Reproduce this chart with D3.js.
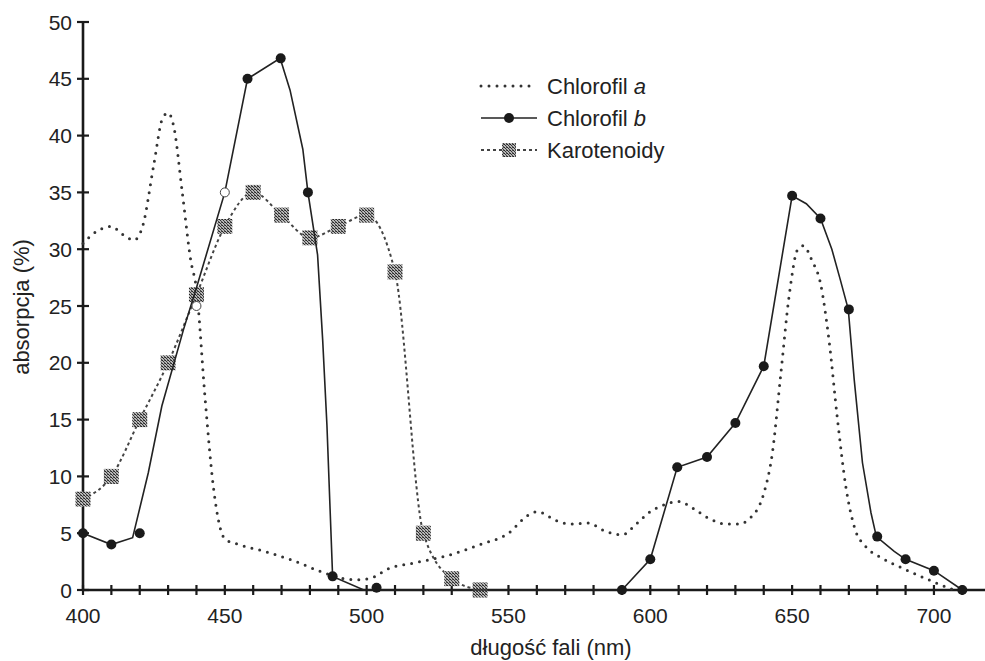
<!DOCTYPE html>
<html lang="pl">
<head>
  <meta charset="UTF-8">
  <title>Absorpcja barwników</title>
  <style>
    body { margin: 0; background: #fff; }
    svg text { font-family: "Liberation Sans", Arial, sans-serif; fill: #222; }
  </style>
</head>
<body>
<div id="chart"></div>
<script src="https://d3js.org/d3.v7.min.js"></script>
<script>
  // dane: [długość fali (nm), absorpcja (%)]
  var chlorofilA = [
    [400, 30.5], [405, 31.6], [410, 32], [414, 31.3], [418, 30.8], [421, 32], [425, 37.5],
    [428, 41.5], [430, 42], [432, 40.8], [435, 35], [438, 29], [440, 26.5], [443, 17],
    [446, 9], [450, 4.5], [455, 4], [464, 3.4], [474, 2.6], [484, 1.6], [491, 1.05],
    [497, 0.9], [501, 1.0], [508, 1.9], [517, 2.4], [528, 3.0], [540, 4.0], [550, 5.0],
    [557, 6.6], [560, 6.9], [567, 6.1], [572, 5.8], [578, 5.9], [584, 5.2], [590, 4.85],
    [595, 5.8], [600, 6.9], [605, 7.5], [610, 7.8], [615, 7.2], [620, 6.4], [627, 5.8],
    [631, 5.8], [635, 6.3], [640, 8.5], [643, 12], [646, 19], [649, 26], [652, 30],
    [654, 30.3], [657, 29], [660, 27], [663, 22], [666, 15], [669, 9], [672, 5.5],
    [676, 3.8], [681, 2.9], [690, 1.8], [700, 0.7], [707, 0]
  ]

  var chlorofilBLine = [
    [400, 5], [410, 4], [417.5, 4.6], [423, 10.3], [427.8, 16.2], [435.4, 22.9], [440, 26.6],
    [450, 35], [458, 45], [469.5, 46.8], [473, 44], [477.5, 38.8], [479.3, 35], [482.7, 29.5],
    [484.5, 22], [486, 14.5], [488, 1.2], [499, 0], [590, 0], [600, 2.7], [609.5, 10.8],
    [620, 11.7], [630, 14.7], [640, 19.7], [650, 34.7], [655, 34], [660, 32.7], [664, 30],
    [667, 27.3], [669.8, 24.7], [671.9, 18.5], [674.8, 11.2], [677.8, 6.8], [679.7, 4.7],
    [686, 3.4], [690, 2.7], [700, 1.7], [710, 0]
  ]
  var chlorofilBPunkty = [
    [400, 5], [410, 4], [420, 5], [458, 45], [469.7, 46.8], [479.3, 35], [488, 1.2],
    [503.5, 0.2], [590, 0], [600, 2.7], [609.5, 10.8], [620, 11.7], [630, 14.7], [640, 19.7],
    [650, 34.7], [660, 32.7], [670, 24.7], [680, 4.7], [690, 2.7], [700, 1.7], [710, 0]
  ]
  var chlorofilBPuste = [[440, 25], [450, 35]]

  var karotenoidy = [
    [400, 8], [410, 10], [420, 15], [430, 20], [440, 26], [450, 32], [460, 35], [470, 33],
    [480, 31], [490, 32], [500, 33], [510, 28], [520, 5], [530, 1], [540, 0]
  ]

  var xTicks = d3.range(400, 711, 10)
  var xLabels = [400, 450, 500, 550, 600, 650, 700]
  var yTicks = d3.range(0, 51, 5)

  var width = 985, height = 661
  var svg = d3.select('#chart').append('svg')
    .attr('width', width)
    .attr('height', height)

  // wzór wypełnienia kwadratów (rastrowany szary)
  var pat = svg.append('defs').append('pattern')
    .attr('id', 'raster')
    .attr('patternUnits', 'userSpaceOnUse')
    .attr('width', 3).attr('height', 3)
  pat.append('rect').attr('width', 3).attr('height', 3).attr('fill', '#b5b5b5')
  pat.append('rect').attr('x', 0).attr('y', 0).attr('width', 1).attr('height', 1).attr('fill', '#222')
  pat.append('rect').attr('x', 1).attr('y', 1).attr('width', 1).attr('height', 1).attr('fill', '#333')
  pat.append('rect').attr('x', 2).attr('y', 2).attr('width', 1).attr('height', 1).attr('fill', '#444')
  pat.append('rect').attr('x', 2).attr('y', 0).attr('width', 1).attr('height', 1).attr('fill', '#555')

  var x = d3.scaleLinear().domain([400, 718]).range([83, 985])
  var y = d3.scaleLinear().domain([0, 50]).range([590, 22])

  var line = d3.line()
    .x(function (d) { return x(d[0]) })
    .y(function (d) { return y(d[1]) })

  // osie rysowane ręcznie (linie z krzyżującymi się kreskami)
  var axes = svg.append('g').attr('class', 'axes')
  axes.append('line')
    .attr('x1', x.range()[0]).attr('x2', x.range()[1])
    .attr('y1', y(0)).attr('y2', y(0))
    .attr('stroke', '#1a1a1a').attr('stroke-width', 2.6)
  axes.append('line')
    .attr('x1', x(400)).attr('x2', x(400))
    .attr('y1', y.range()[0] + 1).attr('y2', y.range()[1])
    .attr('stroke', '#1a1a1a').attr('stroke-width', 2.6)
  axes.selectAll('.xt')
    .data(xTicks)
    .enter().append('line')
    .attr('class', 'xt')
    .attr('x1', function (d) { return x(d) }).attr('x2', function (d) { return x(d) })
    .attr('y1', y(0) - 5).attr('y2', y(0) + 5)
    .attr('stroke', '#1a1a1a').attr('stroke-width', 2.2)
  axes.selectAll('.yt')
    .data(yTicks)
    .enter().append('line')
    .attr('class', 'yt')
    .attr('x1', x(400) - 6).attr('x2', x(400) + 6)
    .attr('y1', function (d) { return y(d) }).attr('y2', function (d) { return y(d) })
    .attr('stroke', '#1a1a1a').attr('stroke-width', 2.2)
  axes.selectAll('.xl')
    .data(xLabels)
    .enter().append('text')
    .attr('class', 'xl')
    .attr('x', function (d) { return x(d) })
    .attr('y', y(0) + 33)
    .attr('text-anchor', 'middle')
    .style('font-size', '21px')
    .text(function (d) { return d })
  axes.selectAll('.yl')
    .data(yTicks)
    .enter().append('text')
    .attr('class', 'yl')
    .attr('x', x(400) - 11)
    .attr('y', function (d) { return y(d) + 7.5 })
    .attr('text-anchor', 'end')
    .style('font-size', '21px')
    .text(function (d) { return d })

  // tytuły osi
  svg.append('text')
    .attr('x', 551).attr('y', 655)
    .attr('text-anchor', 'middle')
    .style('font-size', '22px')
    .text('długość fali (nm)')
  svg.append('text')
    .attr('transform', 'translate(29,307) rotate(-90)')
    .attr('text-anchor', 'middle')
    .style('font-size', '22px')
    .text('absorpcja (%)')

  // Chlorofil a - linia kropkowana
  svg.append('path')
    .datum(chlorofilA)
    .attr('d', line.curve(d3.curveMonotoneX))
    .attr('fill', 'none')
    .attr('stroke', '#333')
    .attr('stroke-width', 3)
    .attr('stroke-linecap', 'round')
    .attr('stroke-dasharray', '0,8')

  // Karotenoidy - linia kreskowana z kwadratami
  svg.append('path')
    .datum(karotenoidy)
    .attr('d', line.curve(d3.curveMonotoneX))
    .attr('fill', 'none')
    .attr('stroke', '#444')
    .attr('stroke-width', 2)
    .attr('stroke-dasharray', '3,3')
  svg.selectAll('.kar')
    .data(karotenoidy)
    .enter().append('rect')
    .attr('class', 'kar')
    .attr('x', function (d) { return x(d[0]) - 7.5 })
    .attr('y', function (d) { return y(d[1]) - 7.5 })
    .attr('width', 15).attr('height', 15)
    .attr('fill', 'url(#raster)')

  // Chlorofil b - linia ciągła z kółkami
  svg.append('path')
    .datum(chlorofilBLine)
    .attr('d', line.curve(d3.curveLinear))
    .attr('fill', 'none')
    .attr('stroke', '#222')
    .attr('stroke-width', 1.6)
  svg.selectAll('.chlb')
    .data(chlorofilBPunkty)
    .enter().append('circle')
    .attr('class', 'chlb')
    .attr('cx', function (d) { return x(d[0]) })
    .attr('cy', function (d) { return y(d[1]) })
    .attr('r', 5)
    .attr('fill', '#1a1a1a')
  svg.selectAll('.chlbo')
    .data(chlorofilBPuste)
    .enter().append('circle')
    .attr('class', 'chlbo')
    .attr('cx', function (d) { return x(d[0]) })
    .attr('cy', function (d) { return y(d[1]) })
    .attr('r', 4.5)
    .attr('fill', '#fff')
    .attr('stroke', '#444')
    .attr('stroke-width', 1)

  // legenda
  var lg = svg.append('g')
  var rows = [86, 118, 150]
  lg.append('line').attr('x1', 481).attr('x2', 537).attr('y1', rows[0]).attr('y2', rows[0])
    .attr('stroke', '#333').attr('stroke-width', 3).attr('stroke-linecap', 'round').attr('stroke-dasharray', '0,8')
  lg.append('line').attr('x1', 481).attr('x2', 537).attr('y1', rows[1]).attr('y2', rows[1])
    .attr('stroke', '#222').attr('stroke-width', 1.6)
  lg.append('circle').attr('cx', 509).attr('cy', rows[1]).attr('r', 5).attr('fill', '#1a1a1a')
  lg.append('line').attr('x1', 481).attr('x2', 537).attr('y1', rows[2]).attr('y2', rows[2])
    .attr('stroke', '#444').attr('stroke-width', 2).attr('stroke-dasharray', '3,3')
  lg.append('rect').attr('x', 502).attr('y', rows[2] - 7).attr('width', 14).attr('height', 14)
    .attr('fill', 'url(#raster)')

  var labels = [['Chlorofil ', 'a'], ['Chlorofil ', 'b'], ['Karotenoidy', '']]
  labels.forEach(function (l, i) {
    var t = lg.append('text').attr('x', 547).attr('y', rows[i] + 8).style('font-size', '22px')
    t.append('tspan').text(l[0])
    if (l[1]) t.append('tspan').style('font-style', 'italic').text(l[1])
  })
</script>
</body>
</html>
